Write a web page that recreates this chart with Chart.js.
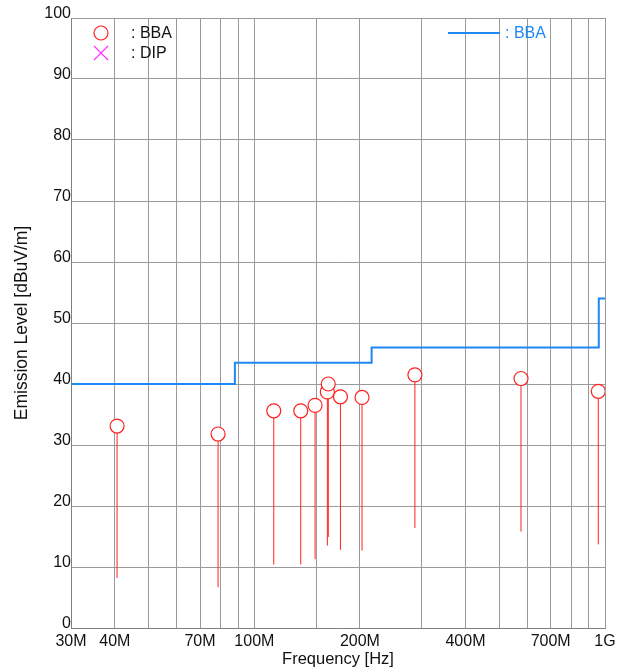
<!DOCTYPE html>
<html lang="en">
<head>
  <meta charset="UTF-8">
  <title>Emission Level</title>
  <script src="https://cdn.jsdelivr.net/npm/chart.js"></script>
  <style>
    * { margin: 0; padding: 0; box-sizing: border-box; }
    body { background: #fff; }
    .chart-box { width: 627px; height: 672px; position: relative; }
  </style>
</head>
<body>
  <div class="chart-box">
    <canvas id="emiChart"></canvas>
  </div>

<script>
  // measured peaks (MHz / dBuV/m)
  const peakFreqs = [40.6, 78.8, 113.6, 135.6, 149, 161.5, 162.5, 176, 202.8, 287, 576, 957];
  const peakLevels = [33.1, 31.8, 35.6, 35.6, 36.5, 38.7, 40.0, 37.9, 37.8, 41.5, 40.9, 38.8];
  const stemBottoms = [8.2, 6.7, 10.4, 10.4, 11.3, 13.5, 14.9, 12.8, 12.7, 16.4, 15.8, 13.7];

  // limit line (stepped)
  const limitFreqs = [30, 88, 216, 960, 1000];
  const limitLevels = [40, 43.5, 46, 54, 54];

  const gridFreqs = [30, 40, 50, 60, 70, 80, 90, 100, 150, 200, 300, 400, 500, 600, 700, 800, 900, 1000];
  const labeledFreqs = [30, 40, 70, 100, 200, 400, 700, 1000];

  const FONT = "'Liberation Sans', Arial, sans-serif";

  const stemData = [];
  peakFreqs.forEach((f, i) => {
    stemData.push({ x: f, y: stemBottoms[i] });
    stemData.push({ x: f, y: peakLevels[i] });
    stemData.push({ x: f, y: null });
  });

  const legendPlugin = {
    id: 'cornerLegend',
    afterDraw(chart) {
      const ctx = chart.ctx;
      ctx.save();
      ctx.font = '16px ' + FONT;
      ctx.textBaseline = 'middle';
      // circle : BBA
      ctx.strokeStyle = '#ff2020';
      ctx.lineWidth = 1.2;
      ctx.beginPath();
      ctx.arc(101, 33, 7, 0, Math.PI * 2);
      ctx.stroke();
      ctx.fillStyle = '#111';
      ctx.fillText(': BBA', 131, 34);
      // cross : DIP
      ctx.strokeStyle = '#ff33ff';
      ctx.beginPath();
      ctx.moveTo(94, 46); ctx.lineTo(108, 60);
      ctx.moveTo(108, 46); ctx.lineTo(94, 60);
      ctx.stroke();
      ctx.fillText(': DIP', 131, 54);
      // line : BBA
      ctx.strokeStyle = '#1e88f5';
      ctx.lineWidth = 2;
      ctx.beginPath();
      ctx.moveTo(448, 33); ctx.lineTo(500, 33);
      ctx.stroke();
      ctx.fillStyle = '#1e88f5';
      ctx.fillText(': BBA', 505, 34);
      ctx.restore();
    }
  };

  const ctx = document.getElementById('emiChart').getContext('2d');
  new Chart(ctx, {
    type: 'scatter',
    data: {
      datasets: [
        {
          label: 'BBA',
          data: peakFreqs.map((f, i) => ({ x: f, y: peakLevels[i] })),
          pointRadius: 7,
          pointHoverRadius: 7,
          pointBorderWidth: 1.2,
          pointBorderColor: '#ff2020',
          pointBackgroundColor: '#ffffff',
          showLine: false
        },
        {
          label: 'BBA limit',
          data: limitFreqs.map((f, i) => ({ x: f, y: limitLevels[i] })),
          showLine: true,
          stepped: true,
          borderColor: '#1e88f5',
          borderWidth: 2,
          pointRadius: 0
        },
        {
          label: 'stems',
          data: stemData,
          showLine: true,
          spanGaps: false,
          borderColor: '#ff2020',
          borderWidth: 1,
          pointRadius: 0
        }
      ]
    },
    options: {
      responsive: true,
      maintainAspectRatio: false,
      animation: false,
      layout: { padding: { top: 18, right: 22, left: 0, bottom: 0 } },
      plugins: {
        legend: { display: false },
        tooltip: { enabled: false }
      },
      scales: {
        x: {
          type: 'logarithmic',
          min: 30,
          max: 1000,
          afterBuildTicks: s => { s.ticks = gridFreqs.map(v => ({ value: v })); },
          afterFit: s => { s.height = 44; },
          grid: { color: '#9a9a9a', drawTicks: false },
          border: { color: '#808080' },
          ticks: {
            autoSkip: false,
            maxRotation: 0,
            padding: 4,
            color: '#111',
            font: { family: FONT, size: 16 },
            callback: v => labeledFreqs.includes(v) ? (v === 1000 ? '1G' : v + 'M') : ''
          },
          title: {
            display: true,
            text: 'Frequency [Hz]',
            color: '#111',
            font: { family: FONT, size: 16.5 },
            padding: { top: 0, bottom: 3 }
          }
        },
        y: {
          min: 0,
          max: 100,
          afterFit: s => { s.width = 71; },
          grid: { color: '#9a9a9a', drawTicks: false },
          border: { color: '#808080' },
          ticks: {
            stepSize: 10,
            padding: 0,
            color: '#111',
            font: { family: FONT, size: 16, lineHeight: 0.55 },
            callback: v => [String(v), '']
          },
          title: {
            display: true,
            text: 'Emission Level [dBuV/m]',
            color: '#111',
            font: { family: FONT, size: 17.5 },
            padding: { top: 12, bottom: 0 }
          }
        }
      }
    },
    plugins: [legendPlugin]
  });
</script>
</body>
</html>
